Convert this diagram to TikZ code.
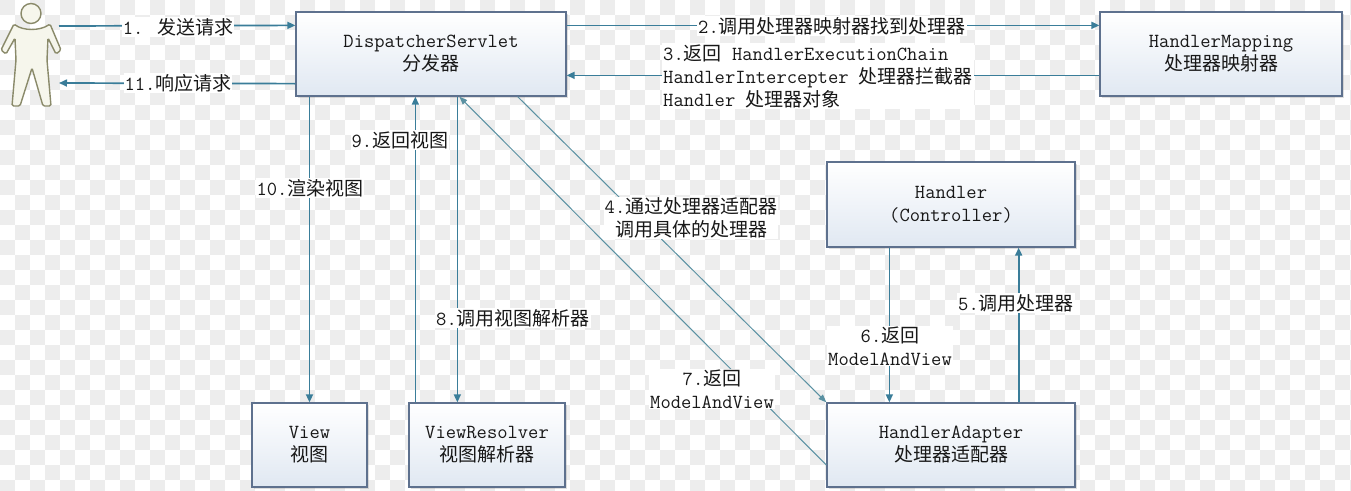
\documentclass[tikz,border=0pt]{standalone}
\usepackage{fontspec}
\newfontfamily\cjkfont{Noto Sans CJK SC}[Scale=0.95]
\newcommand\zh[1]{{\cjkfont #1}}
\usetikzlibrary{arrows.meta,shadows}
\definecolor{arrc}{HTML}{3A7D99}
\definecolor{diagc}{HTML}{5A91A2}
\definecolor{boxd}{HTML}{5E718E}
\definecolor{boxb}{HTML}{E0E8F2}
\definecolor{chk}{HTML}{EDEDED}
\definecolor{txt}{HTML}{181818}
\definecolor{persd}{HTML}{8A8A6A}
\definecolor{persf}{HTML}{F6F6EC}
\begin{document}
\begin{tikzpicture}[x=1pt,y=-1pt,
  every node/.style={font=\fontsize{20}{23}\selectfont\ttfamily, text=txt},
  box/.style={draw=boxd, line width=1.3pt, top color=white, bottom color=boxb,
    align=center, inner sep=0pt,
    drop shadow={shadow xshift=2pt, shadow yshift=-2pt, opacity=0.25, fill=gray}},
  lab/.style={fill=white, inner sep=1pt, align=center},
  arr/.style={draw=arrc, line width=1.7pt, -{Triangle[length=8pt,width=7pt]}},
  darr/.style={draw=diagc, line width=1pt, -{Triangle[length=8pt,width=6pt]}},
  fig/.style={fill=persf, draw=persd, line width=1.4pt}]
\useasboundingbox (0,0) rectangle (1351,490);
\begin{scope}
\clip (0,0) rectangle (1351,490);
\fill[white] (0,0) rectangle (1351,490);
\foreach \i in {0,...,90}{%
  \pgfmathtruncatemacro\off{mod(\i,2)}%
  \foreach \j in {0,2,...,32}{%
    \fill[chk] ({\i*15},{(\j+\off)*15}) rectangle ++(15,15);}}
\end{scope}

% person
\draw[fig, rounded corners=1.5pt] (14,24) .. controls (23,31) and (40,31) .. (50,24)
  -- (61,50) -- (56,54) -- (48,38) -- (47,60) -- (51,106) -- (43,106) -- (32,68)
  -- (20,106) -- (12,106) -- (16,60) -- (15,38) -- (6,54) -- (1,50) -- cycle;
\draw[fig] (31,13.5) circle[radius=10];
\coordinate (p1) at (59,26);
\coordinate (p2) at (59,83);

% boxes
\node[box, minimum width=270pt, minimum height=84pt] (DS) at (431,54) {DispatcherServlet\\\zh{分发器}};
\node[box, minimum width=242pt, minimum height=84pt] (HM) at (1221,54) {HandlerMapping\\\zh{处理器映射器}};
\node[box, minimum width=248pt, minimum height=85pt] (H) at (951,204.5) {Handler\\(Controller)};
\node[box, minimum width=248pt, minimum height=84pt] (HA) at (951,445) {HandlerAdapter\\\zh{处理器适配器}};
\node[box, minimum width=115pt, minimum height=84pt] (V) at (309.5,445) {View\\\zh{视图}};
\node[box, minimum width=156pt, minimum height=84pt] (VR) at (487,445) {ViewResolver\\\zh{视图解析器}};

% connectors
\draw[arr] (p1) -- ([yshift=-14pt]DS.north west);
\draw[arr] ([yshift=13pt]DS.south west) -- (p2);
\draw[arr] ([yshift=-14pt]DS.north east) -- ([yshift=-14pt]HM.north west);
\draw[arr] ([yshift=-64pt]HM.north west) -- ([yshift=-64pt]DS.north east);
\draw[arr] (V.north |- DS.south) -- (V.north);
\draw[arr] ([xshift=7pt]VR.north west) -- ([xshift=7pt]VR.north west |- DS.south);
\draw[arr] ([xshift=49pt]VR.north west |- DS.south) -- ([xshift=49pt]VR.north west);
\draw[darr] ([xshift=-49pt]DS.south east) -- (HA.north west);
\draw[darr] ([yshift=-20pt]HA.west) -- ([xshift=164pt]DS.south west);
\draw[arr] ([xshift=-57pt]HA.north east) -- ([xshift=-57pt]H.south east);
\draw[arr] ([xshift=63pt]H.south west) -- ([xshift=63pt]HA.north west);

% labels
\node[lab] (l1) at (178,27) {1. \zh{发送请求}};
\node[lab] (l11) at (178,83) {11.\zh{响应请求}};
\node[lab] (l2) at (832,26) {2.\zh{调用处理器映射器找到处理器}};
\node[lab, align=left, anchor=west] (l3) at (662,76) {3.\zh{返回} HandlerExecutionChain\\HandlerIntercepter \zh{处理器拦截器}\\Handler \zh{处理器对象}};
\node[lab] (l10) at (310,188) {10.\zh{渲染视图}};
\node[lab] (l9) at (400,140) {9.\zh{返回视图}};
\node[lab] (l8) at (513,318) {8.\zh{调用视图解析器}};
\node[lab] (l4) at (691,218) {4.\zh{通过处理器适配器}\\\zh{调用具体的处理器}};
\node[lab] (l7) at (712,389) {7.\zh{返回}\\ModelAndView};
\node[lab] (l6) at (890,346) {6.\zh{返回}\\ModelAndView};
\node[lab] (l5) at (1016,303) {5.\zh{调用处理器}};
\end{tikzpicture}
\end{document}
